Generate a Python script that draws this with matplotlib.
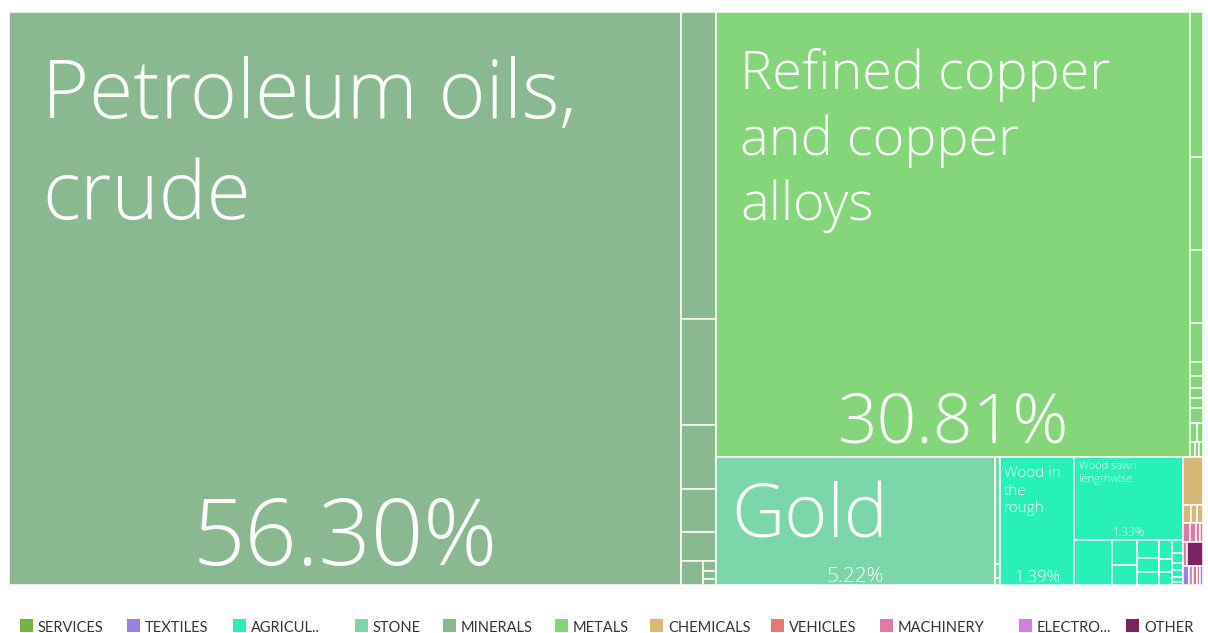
import matplotlib
matplotlib.use("Agg")
import matplotlib.pyplot as plt
from matplotlib.patches import Rectangle

# --- export shares (percent of total) ---
petroleum_value = 56.30
minerals_small = [1.570, 0.542, 0.327, 0.220, 0.148]
minerals_tail = [0.077, 0.020, 0.015, 0.011]

copper_value = 30.81
metals_small = [0.277, 0.178, 0.139, 0.074, 0.027, 0.023, 0.020, 0.018]
metals_tail = [[0.030], [0.020, 0.015], [0.012, 0.009, 0.008]]

gold_value = 5.22
stone_small = [0.075, 0.010, 0.005]

wood_rough_value = 1.39
wood_sawn_value = 1.33
agri_small = [[0.243], [0.090, 0.076], [0.056, 0.044, 0.041],
              [0.037, 0.027, 0.026], [0.020, 0.015, 0.012, 0.010, 0.008, 0.005]]

misc_cats = [["CHEMICALS"],
             ["CHEMICALS", "CHEMICALS", "CHEMICALS"],
             ["MACHINERY", "MACHINERY", "MACHINERY", "VEHICLES"],
             ["MACHINERY", "OTHER"],
             ["TEXTILES", "ELECTRONICS", "VEHICLES", "MACHINERY", "TEXTILES"]]
misc_values = [[0.140],
               [0.020, 0.015, 0.015],
               [0.020, 0.015, 0.012, 0.008],
               [0.015, 0.055],
               [0.015, 0.012, 0.010, 0.010, 0.008]]

legend_keys = ["SERVICES", "TEXTILES", "AGRICULTURE", "STONE", "MINERALS", "METALS",
               "CHEMICALS", "VEHICLES", "MACHINERY", "ELECTRONICS", "OTHER"]
legend_labels = ["SERVICES", "TEXTILES", "AGRICUL..", "STONE", "MINERALS", "METALS",
                 "CHEMICALS", "VEHICLES", "MACHINERY", "ELECTRO...", "OTHER"]

colors = {
    "SERVICES": "#77B240",
    "TEXTILES": "#9A80E0",
    "AGRICULTURE": "#27F0B9",
    "STONE": "#7BD6AA",
    "MINERALS": "#8AB991",
    "METALS": "#85D67B",
    "CHEMICALS": "#D9B877",
    "VEHICLES": "#E07A72",
    "MACHINERY": "#DE7AA6",
    "ELECTRONICS": "#D27EE0",
    "OTHER": "#7C2463",
}

# label styling (pixels / points)
label_style = {
    "Petroleum oils,\ncrude": dict(size=58, px=33, py=44, ls=1.31, pct=66, pct_pad=20),
    "Refined copper\nand copper\nalloys": dict(size=39, px=24, py=36, ls=1.3, pct=50, pct_pad=14),
    "Gold": dict(size=53, px=15, py=25, ls=1.1, pct=15, pct_pad=3),
    "Wood in\nthe\nrough": dict(size=11, px=4, py=9, ls=1.25, pct=12, pct_pad=3),
    "Wood sawn\nlengthwise": dict(size=8, px=5, py=4, ls=1.2, pct=8.5, pct_pad=4),
}


def leaf(cat, value, name=None):
    return {"cat": cat, "value": value, "name": name}


def stack(cat, values, direction):
    return (direction, [leaf(cat, v) for v in values])


def total(node):
    if isinstance(node, dict):
        return node["value"]
    return sum(total(k) for k in node[1])


def place(node, x, y, w, h, out):
    if isinstance(node, dict):
        out.append((node, x, y, w, h))
        return
    direction, kids = node
    s = total(node)
    for k in kids:
        f = total(k) / s
        if direction == "h":
            place(k, x, y, w * f, h, out)
            x += w * f
        else:
            place(k, x, y, w, h * f, out)
            y += h * f


# build the nested layout
minerals_col = ("v", [leaf("MINERALS", v) for v in minerals_small] +
                [("h", [leaf("MINERALS", minerals_tail[0]),
                        stack("MINERALS", minerals_tail[1:], "v")])])
metals_col = ("v", [leaf("METALS", v) for v in metals_small] +
              [("v", [stack("METALS", row, "h") for row in metals_tail])])
agri_block = ("h", [leaf("AGRICULTURE", wood_rough_value, "Wood in\nthe\nrough"),
                    ("v", [leaf("AGRICULTURE", wood_sawn_value, "Wood sawn\nlengthwise"),
                           ("h", [stack("AGRICULTURE", col, "v") for col in agri_small])])])
misc_col = ("v", [("h", [leaf(c, v) for c, v in zip(cs, vs)])
                  for cs, vs in zip(misc_cats, misc_values)])

tree = ("h", [
    leaf("MINERALS", petroleum_value, "Petroleum oils,\ncrude"),
    minerals_col,
    ("v", [
        ("h", [leaf("METALS", copper_value, "Refined copper\nand copper\nalloys"), metals_col]),
        ("h", [leaf("STONE", gold_value, "Gold"), stack("STONE", stone_small, "v"),
               agri_block, misc_col]),
    ]),
])

W, H = 1208, 633
fig = plt.figure(figsize=(W / 100, H / 100), dpi=100)
ax = fig.add_axes([0, 0, 1, 1])
ax.set_xlim(0, W)
ax.set_ylim(H, 0)
ax.axis("off")

cells = []
place(tree, 9, 12, 1194, 573, cells)

font = "Open Sans"
for node, x, y, w, h in cells:
    ax.add_patch(Rectangle((x, y), w, h, facecolor=colors[node["cat"]],
                           edgecolor=(1, 1, 1, 0.85), linewidth=1.3))
    name = node["name"]
    if name is None:
        continue
    st = label_style[name]
    ax.text(x + st["px"], y + st["py"], name, color="white", fontsize=st["size"],
            fontfamily=font, fontweight="light", va="top", ha="left",
            linespacing=st["ls"])
    ax.text(x + w / 2, y + h - st["pct_pad"], f"{node['value']:.2f}%", color="white",
            fontsize=st["pct"], fontfamily=font, fontweight="light",
            va="baseline", ha="center")

# legend row
legend_x = [20, 127, 233, 355, 443, 555, 650, 771, 880, 1019, 1126]
for lx, key, lab in zip(legend_x, legend_keys, legend_labels):
    ax.add_patch(Rectangle((lx, 619), 13, 13, facecolor=colors[key], edgecolor="none"))
    ax.text(lx + 18, 632, lab, color="#333333", fontsize=10.5, fontfamily="Lato",
            va="baseline", ha="left")

fig.savefig("out.png", dpi=100, facecolor="white")
